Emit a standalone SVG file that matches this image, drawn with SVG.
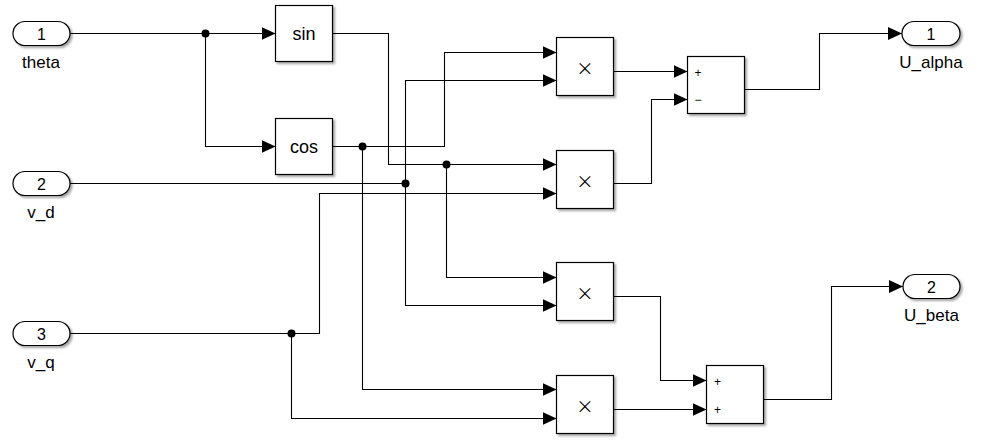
<svg xmlns="http://www.w3.org/2000/svg" width="988" height="440" viewBox="0 0 988 440">
<defs>
<filter id="sh" x="-20%" y="-20%" width="150%" height="150%">
<feDropShadow dx="2" dy="2" stdDeviation="1.3" flood-color="#000" flood-opacity="0.35"/>
</filter>
<marker id="arr" viewBox="0 0 14 13" refX="14" refY="6.5" markerWidth="14" markerHeight="13" markerUnits="userSpaceOnUse" orient="auto">
<path d="M0,0 L14,6.5 L0,13 Z" fill="#000"/>
</marker>
</defs>
<style>
.blk{fill:#fff;stroke:#000;stroke-width:1.2;filter:url(#sh)}
.w{fill:none;stroke:#000;stroke-width:1.1;marker-end:url(#arr)}
.wn{fill:none;stroke:#000;stroke-width:1.1}
.t{font-family:"Liberation Sans",Arial,sans-serif;fill:#000;text-anchor:middle}
.lbl{font-size:17px}
.num{font-size:16px}
.fn{font-size:18px}
.sg{font-size:12px}
.x{font-family:Inter,"Liberation Sans",sans-serif;font-weight:200;font-size:26px}
.dot{fill:#000}
</style>
<rect width="988" height="440" fill="#fff"/>

<g id="connectors">
<path class="w" d="M70,33.5 H275.5"/>
<path class="w" d="M205.5,33.5 V146.5 H275.5"/>
<path class="w" d="M332.5,33.5 H388.5 V164.5 H556.5"/>
<path class="w" d="M446.5,164.5 V277.5 H556.5"/>
<path class="w" d="M332.5,146.5 H444.5 V52.5 H556.5"/>
<path class="w" d="M362.5,146.5 V389.5 H556.5"/>
<path class="wn" d="M70,183.5 H405.5"/>
<path class="w" d="M405.5,183.5 V80.5 H556.5"/>
<path class="w" d="M405.5,183.5 V305.5 H556.5"/>
<path class="wn" d="M70,333.5 H291.5"/>
<path class="w" d="M291.5,333.5 H319.5 V193.5 H556.5"/>
<path class="w" d="M291.5,333.5 V418.5 H556.5"/>
<path class="w" d="M613.5,71.5 H687.5"/>
<path class="w" d="M613.5,183.5 H651.5 V99.5 H687.5"/>
<path class="w" d="M744.5,89.5 H819.5 V33.5 H902"/>
<path class="w" d="M613.5,296.5 H660.5 V380.5 H706.5"/>
<path class="w" d="M613.5,409.5 H706.5"/>
<path class="w" d="M763.5,399.5 H831.5 V286.5 H903"/>
<circle class="dot" cx="205.5" cy="33.5" r="4"/>
<circle class="dot" cx="446.5" cy="164.5" r="4"/>
<circle class="dot" cx="362.5" cy="146.5" r="4"/>
<circle class="dot" cx="405.5" cy="183.5" r="4"/>
<circle class="dot" cx="291.5" cy="333.5" r="4"/>
</g>

<g id="in1">
<rect class="blk" x="13" y="21.5" width="57" height="24" rx="12" ry="12"/>
<text class="t num" x="41.5" y="40">1</text>
<text class="t lbl" x="41" y="68">theta</text>
</g>
<g id="in2">
<rect class="blk" x="13" y="171.5" width="57" height="24" rx="12" ry="12"/>
<text class="t num" x="41.5" y="190">2</text>
<text class="t lbl" x="41" y="218">v_d</text>
</g>
<g id="in3">
<rect class="blk" x="13" y="321.5" width="57" height="24" rx="12" ry="12"/>
<text class="t num" x="41.5" y="340">3</text>
<text class="t lbl" x="41" y="368">v_q</text>
</g>

<g id="sin">
<rect class="blk" x="275.5" y="5.5" width="57" height="56"/>
<text class="t fn" x="304" y="40">sin</text>
</g>
<g id="cos">
<rect class="blk" x="275.5" y="118.5" width="57" height="56"/>
<text class="t fn" x="304" y="153">cos</text>
</g>

<g id="mult1">
<rect class="blk" x="556.5" y="37.5" width="57" height="58"/>
<text class="t x" x="585" y="76">×</text>
</g>
<g id="mult2">
<rect class="blk" x="556.5" y="150.5" width="57" height="58"/>
<text class="t x" x="585" y="189">×</text>
</g>
<g id="mult3">
<rect class="blk" x="556.5" y="262.5" width="57" height="58"/>
<text class="t x" x="585" y="301">×</text>
</g>
<g id="mult4">
<rect class="blk" x="556.5" y="375.5" width="57" height="58"/>
<text class="t x" x="585" y="414">×</text>
</g>

<g id="sum1">
<rect class="blk" x="687.5" y="56.5" width="57" height="57"/>
<text class="t sg" x="698" y="77">+</text>
<text class="t sg" x="698" y="104">−</text>
</g>
<g id="sum2">
<rect class="blk" x="706.5" y="365.5" width="57" height="58"/>
<text class="t sg" x="717.5" y="386">+</text>
<text class="t sg" x="717.5" y="414">+</text>
</g>

<g id="out1">
<rect class="blk" x="902" y="21.5" width="58" height="24" rx="12" ry="12"/>
<text class="t num" x="931" y="40">1</text>
<text class="t lbl" x="931" y="68">U_alpha</text>
</g>
<g id="out2">
<rect class="blk" x="903" y="274.5" width="57" height="24" rx="12" ry="12"/>
<text class="t num" x="931.5" y="293">2</text>
<text class="t lbl" x="931.5" y="321">U_beta</text>
</g>
</svg>
